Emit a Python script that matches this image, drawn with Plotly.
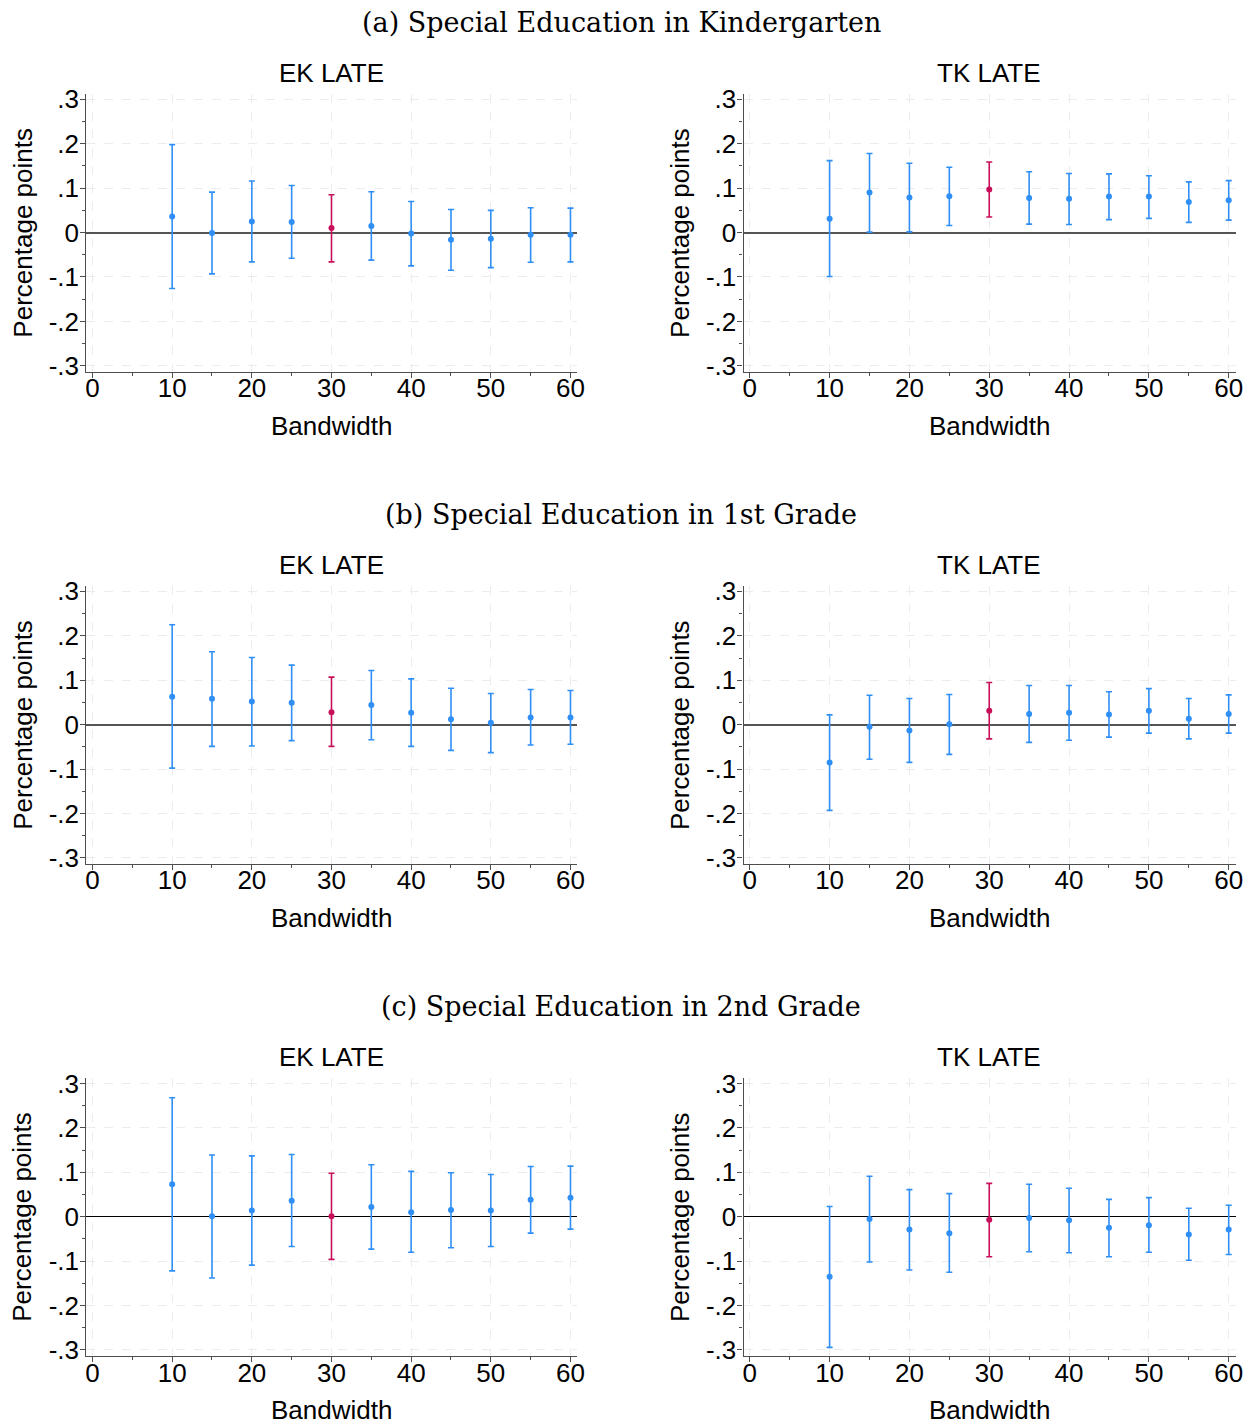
import plotly.graph_objects as go

W, H = 1259, 1425

bandwidths = [10, 15, 20, 25, 30, 35, 40, 45, 50, 55, 60]
preferred_bw = 30

section_titles = ["(a) Special Education in Kindergarten",
                  "(b) Special Education in 1st Grade",
                  "(c) Special Education in 2nd Grade"]
panel_titles = ["EK LATE", "TK LATE"]

# (a) Kindergarten
a_ek_est = [0.036, -0.001, 0.025, 0.024, 0.010, 0.015, -0.002, -0.016, -0.014, -0.005, -0.005]
a_ek_lo = [-0.126, -0.093, -0.066, -0.058, -0.066, -0.062, -0.075, -0.085, -0.079, -0.067, -0.066]
a_ek_hi = [0.198, 0.091, 0.116, 0.106, 0.085, 0.092, 0.070, 0.052, 0.050, 0.056, 0.055]

a_tk_est = [0.031, 0.090, 0.079, 0.082, 0.097, 0.078, 0.076, 0.081, 0.081, 0.069, 0.073]
a_tk_lo = [-0.099, 0.001, 0.0015, 0.016, 0.035, 0.019, 0.018, 0.029, 0.032, 0.023, 0.028]
a_tk_hi = [0.162, 0.178, 0.156, 0.147, 0.159, 0.137, 0.133, 0.132, 0.128, 0.114, 0.117]

# (b) 1st grade
b_ek_est = [0.063, 0.058, 0.052, 0.049, 0.028, 0.044, 0.027, 0.012, 0.004, 0.016, 0.016]
b_ek_lo = [-0.098, -0.049, -0.048, -0.036, -0.049, -0.034, -0.049, -0.058, -0.063, -0.046, -0.044]
b_ek_hi = [0.225, 0.164, 0.151, 0.134, 0.107, 0.122, 0.103, 0.082, 0.070, 0.079, 0.077]

b_tk_est = [-0.085, -0.005, -0.013, 0.001, 0.031, 0.024, 0.027, 0.023, 0.031, 0.013, 0.024]
b_tk_lo = [-0.193, -0.078, -0.085, -0.067, -0.032, -0.040, -0.035, -0.028, -0.019, -0.032, -0.019]
b_tk_hi = [0.022, 0.066, 0.059, 0.068, 0.095, 0.088, 0.088, 0.074, 0.081, 0.059, 0.067]

# (c) 2nd grade
c_ek_est = [0.073, 0.001, 0.014, 0.036, 0.001, 0.022, 0.010, 0.015, 0.014, 0.038, 0.043]
c_ek_lo = [-0.122, -0.138, -0.109, -0.067, -0.096, -0.073, -0.080, -0.070, -0.067, -0.037, -0.028]
c_ek_hi = [0.268, 0.139, 0.137, 0.140, 0.098, 0.117, 0.102, 0.099, 0.095, 0.113, 0.114]

c_tk_est = [-0.135, -0.005, -0.029, -0.037, -0.007, -0.003, -0.008, -0.025, -0.019, -0.040, -0.029]
c_tk_lo = [-0.294, -0.102, -0.120, -0.125, -0.090, -0.079, -0.081, -0.090, -0.080, -0.098, -0.085]
c_tk_hi = [0.023, 0.091, 0.061, 0.052, 0.075, 0.073, 0.064, 0.039, 0.043, 0.019, 0.026]

y_tickvals = [-0.3, -0.2, -0.1, 0, 0.1, 0.2, 0.3]
y_ticktext = ["-.3", "-.2", "-.1", "0", ".1", ".2", ".3"]
x_tickvals = [0, 10, 20, 30, 40, 50, 60]

panels = [
    [(a_ek_est, a_ek_lo, a_ek_hi), (a_tk_est, a_tk_lo, a_tk_hi)],
    [(b_ek_est, b_ek_lo, b_ek_hi), (b_tk_est, b_tk_lo, b_tk_hi)],
    [(c_ek_est, c_ek_lo, c_ek_hi), (c_tk_est, c_tk_lo, c_tk_hi)],
]

BLUE = "#2f8ff5"
RED = "#c8105a"
AXC = "#4d4d4d"
FONT = "Liberation Sans, Arial, sans-serif"
SERIF = "DejaVu Serif, Liberation Serif, serif"
FS = 26

# empirical page-offset correction (target px -> spec px)
def sx(x):
    return (x - 7.3) / 0.997


def sy(y):
    return (y - 16.6) / 0.9885


def px(x):
    return sx(x) / W


def py(y):
    return 1 - sy(y) / H


col_x = [(85, 578), (745, 1239)]
col_center = [331.5, 991.5]
row_top0 = 92.7
row_h = 278.6
row_step = 493

fig = go.Figure()
layout = dict(width=W, height=H, margin=dict(l=0, r=0, t=0, b=0),
              paper_bgcolor="white", plot_bgcolor="white", showlegend=False)
annotations = []

idx = 0
for r in range(3):
    top = row_top0 + r * row_step
    bot = top + row_h
    ydom = [py(bot), py(top)]
    annotations.append(dict(text=section_titles[r], x=px(622), y=py(21 + r * row_step),
                            xref="paper", yref="paper", showarrow=False,
                            font=dict(family=SERIF, size=27, color="black"),
                            xanchor="center", yanchor="middle"))
    for c in range(2):
        idx += 1
        xa = "x" if idx == 1 else f"x{idx}"
        ya = "y" if idx == 1 else f"y{idx}"
        xkey = "xaxis" if idx == 1 else f"xaxis{idx}"
        ykey = "yaxis" if idx == 1 else f"yaxis{idx}"
        x0, x1 = col_x[c]
        est, lo, hi = panels[r][c]
        for highlight in (False, True):
            xs, ys, ep, em = [], [], [], []
            for b, e, l, h in zip(bandwidths, est, lo, hi):
                if (b == preferred_bw) == highlight:
                    xs.append(b)
                    ys.append(e)
                    ep.append(h - e)
                    em.append(e - l)
            col = RED if highlight else BLUE
            fig.add_trace(go.Scatter(
                x=xs, y=ys, mode="markers", xaxis=xa, yaxis=ya,
                marker=dict(color=col, size=6),
                error_y=dict(type="data", symmetric=False, array=ep, arrayminus=em,
                             color=col, thickness=1.6, width=3),
            ))
        zl_color = "#000000" if r == 2 else "#555555"
        layout[xkey] = dict(domain=[px(x0), px(x1)], anchor=ya, range=[-0.77, 60.86],
                            tickvals=x_tickvals, ticks="outside", ticklen=5, tickcolor=AXC,
                            tickwidth=1.2, ticklabelstandoff=-12,
                            minor=dict(dtick=5, tick0=0, ticks="outside", ticklen=3,
                                       tickcolor=AXC, showgrid=False),
                            showline=True, linecolor=AXC, linewidth=1.3,
                            showgrid=True, gridcolor="#ececec", griddash="dash", gridwidth=1,
                            zeroline=False, tickfont=dict(family=FONT, size=FS, color="black"),
                            fixedrange=True)
        layout[ykey] = dict(domain=ydom, anchor=xa, range=[-0.314, 0.312],
                            tickvals=y_tickvals, ticktext=y_ticktext, ticks="outside",
                            ticklen=5, tickcolor=AXC, tickwidth=1.2, ticklabelstandoff=-4,
                            minor=dict(dtick=0.05, tick0=0, ticks="outside", ticklen=3,
                                       tickcolor=AXC, showgrid=False),
                            showline=True, linecolor=AXC, linewidth=1.3,
                            showgrid=True, gridcolor="#ececec", griddash="dash", gridwidth=1,
                            zeroline=True, zerolinecolor=zl_color,
                            zerolinewidth=1.5 if r < 2 else 1.2,
                            tickfont=dict(family=FONT, size=FS, color="black"),
                            fixedrange=True)
        cx = col_center[c]
        annotations.append(dict(text=panel_titles[c], x=px(cx), y=py(72 + r * row_step),
                                xref="paper", yref="paper", showarrow=False,
                                font=dict(family=FONT, size=FS, color="black"),
                                xanchor="center", yanchor="middle"))
        annotations.append(dict(text="Bandwidth", x=px(cx), y=py(425 + r * row_step),
                                xref="paper", yref="paper", showarrow=False,
                                font=dict(family=FONT, size=FS, color="black"),
                                xanchor="center", yanchor="middle"))
        annotations.append(dict(text="Percentage points", x=px(x0 - 64),
                                y=py(top + row_h / 2),
                                xref="paper", yref="paper", showarrow=False, textangle=-90,
                                font=dict(family=FONT, size=FS, color="black"),
                                xanchor="center", yanchor="middle"))

layout["annotations"] = annotations
fig.update_layout(**layout)
fig.write_html("out.html")
